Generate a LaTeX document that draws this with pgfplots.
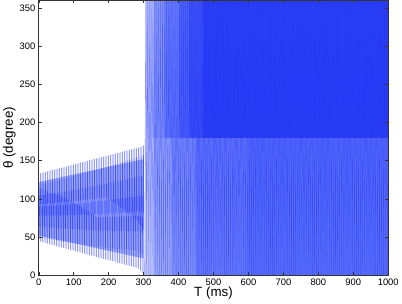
\documentclass[border=0pt]{standalone}
\usepackage{pgfplots}
\pgfplotsset{compat=1.18}
\usepackage{fontspec}
\setmainfont{Liberation Sans}
\definecolor{lineb}{RGB}{30,50,250}
\definecolor{band}{RGB}{170,181,252}
\definecolor{loA}{RGB}{192,200,252}
\definecolor{loB}{RGB}{155,168,250}
\definecolor{loC}{RGB}{125,142,250}
\definecolor{loD}{RGB}{100,118,250}
\definecolor{loE}{RGB}{88,108,250}
\definecolor{upA}{RGB}{172,182,252}
\definecolor{upB}{RGB}{132,148,250}
\definecolor{upC}{RGB}{100,120,250}
\definecolor{upD}{RGB}{76,96,248}
\definecolor{upF}{RGB}{58,78,247}
\definecolor{upE}{RGB}{42,62,245}
\begin{document}
\begin{tikzpicture}
\begin{axis}[
  scale only axis, width=352bp, height=277bp,
  xmin=0, xmax=1000, ymin=0, ymax=360,
  xtick={0,100,...,1000}, ytick={0,50,...,350},
  tick align=inside, major tick length=3bp,
  axis line style={black!80, line width=0.5pt},
  every tick/.style={black!80, line width=0.4pt},
  /pgf/number format/assume math mode=true,
  /pgf/number format/1000 sep={},
  ticklabel style={font=\fontsize{9.5}{11}\selectfont},
  label style={font=\fontsize{13.5}{15}\selectfont},
  xlabel={T (ms)}, ylabel={θ (degree)},
  xlabel style={yshift=5bp}, ylabel style={yshift=-3bp},
  axis on top,
]
% light band of the bounded oscillation
\addplot[draw=none, fill=band] coordinates {(0,122)(300,152)(300,22)(0,52)} --cycle;
% background density of the wrapped region
\addplot[draw=none, fill=loA] coordinates {(305,0)(305,180)(330,180)(330,0)} --cycle;
\addplot[draw=none, fill=loB] coordinates {(330,0)(330,180)(380,180)(380,0)} --cycle;
\addplot[draw=none, fill=loC] coordinates {(380,0)(380,180)(450,180)(450,0)} --cycle;
\addplot[draw=none, fill=loD] coordinates {(450,0)(450,180)(600,180)(600,0)} --cycle;
\addplot[draw=none, fill=loE] coordinates {(600,0)(600,180)(1000,180)(1000,0)} --cycle;
\addplot[draw=none, fill=upA] coordinates {(308,180)(308,360)(330,360)(330,180)} --cycle;
\addplot[draw=none, fill=upB] coordinates {(330,180)(330,360)(360,360)(360,180)} --cycle;
\addplot[draw=none, fill=upC] coordinates {(360,180)(360,360)(400,360)(400,180)} --cycle;
\addplot[draw=none, fill=upD] coordinates {(400,180)(400,360)(430,360)(430,180)} --cycle;
\addplot[draw=none, fill=upF] coordinates {(430,180)(430,360)(470,360)(470,180)} --cycle;
\addplot[draw=none, fill=upE] coordinates {(470,180)(470,360)(1000,360)(1000,180)} --cycle;
% bounded oscillation 0-300 ms
\addplot[lineb, line width=0.45pt, opacity=0.75] coordinates {
(0,133)(0.6,44.7)(5,133.6)(5.6,44.1)(10,134.2)(10.6,43.4)(15,134.8)(15.6,42.8)(20,135.4)(20.6,42.2)
(25,136)(25.6,41.6)(30,136.6)(30.6,40.9)(35,137.2)(35.6,40.3)(40,137.8)(40.6,39.7)(45,138.4)(45.6,39.1)
(50,139)(50.6,38.4)(55,139.6)(55.6,37.8)(60,140.2)(60.6,37.2)(65,140.8)(65.6,36.6)(70,141.4)(70.6,35.9)
(75,142)(75.6,35.3)(80,142.6)(80.6,34.7)(85,143.2)(85.6,34.1)(90,143.8)(90.6,33.4)(95,144.4)(95.6,32.8)
(100,145)(100.6,32.2)(105,145.6)(105.6,31.6)(110,146.2)(110.6,30.9)(115,146.8)(115.6,30.3)(120,147.4)(120.6,29.7)
(125,148)(125.6,29.1)(130,148.6)(130.6,28.4)(135,149.2)(135.6,27.8)(140,149.8)(140.6,27.2)(145,150.4)(145.6,26.6)
(150,151)(150.6,25.9)(155,151.6)(155.6,25.3)(160,152.2)(160.6,24.7)(165,152.8)(165.6,24.1)(170,153.4)(170.6,23.4)
(175,154)(175.6,22.8)(180,154.6)(180.6,22.2)(185,155.2)(185.6,21.6)(190,155.8)(190.6,20.9)(195,156.4)(195.6,20.3)
(200,157)(200.6,19.7)(205,157.6)(205.6,19.1)(210,158.2)(210.6,18.4)(215,158.8)(215.6,17.8)(220,159.4)(220.6,17.2)
(225,160)(225.6,16.6)(230,160.6)(230.6,15.9)(235,161.2)(235.6,15.3)(240,161.8)(240.6,14.7)(245,162.4)(245.6,14.1)
(250,163)(250.6,13.4)(255,163.6)(255.6,12.8)(260,164.2)(260.6,12.2)(265,164.8)(265.6,11.6)(270,165.4)(270.6,10.9)
(275,166)(275.6,10.3)(280,166.6)(280.6,9.7)(285,167.2)(285.6,8.6)(290,167.8)(290.6,6)(295,168.4)(295.6,3)
(300,170)(300.6,0)
};
% wrapped rotation 300-1000 ms
\addplot[lineb, line width=0.4pt, opacity=0.5] coordinates {
(303,0)(306,360)(309,0)(312,360)(315,0)(318,360)(321,0)(324,360)(327,0)(330,360)
(333,0)(336,360)(339,0)(342,360)(345,0)(348,360)(351,0)(354,360)(357,0)(360,360)
(363,0)(366,360)(369,0)(372,360)(375,0)(378,360)(381,0)(384,360)(387,0)(390,360)
(393,0)(396,360)(399,0)(402,360)(405,0)(408,360)(411,0)(414,360)(417,0)(420,360)
(423,0)(426,360)(429,0)(432,360)(435,0)(438,360)(441,0)(444,360)(447,0)(450,360)
(453,0)(456,360)(459,0)(462,360)(465,0)(468,360)(471,0)(474,360)(477,0)(480,360)
(483,0)(486,360)(489,0)(492,360)(495,0)(498,360)(501,0)(504,360)(507,0)(510,360)
(513,0)(516,360)(519,0)(522,360)(525,0)(528,360)(531,0)(534,360)(537,0)(540,360)
(543,0)(546,360)(549,0)(552,360)(555,0)(558,360)(561,0)(564,360)(567,0)(570,360)
(573,0)(576,360)(579,0)(582,360)(585,0)(588,360)(591,0)(594,360)(597,0)(600,360)
(603,0)(606,360)(609,0)(612,360)(615,0)(618,360)(621,0)(624,360)(627,0)(630,360)
(633,0)(636,360)(639,0)(642,360)(645,0)(648,360)(651,0)(654,360)(657,0)(660,360)
(663,0)(666,360)(669,0)(672,360)(675,0)(678,360)(681,0)(684,360)(687,0)(690,360)
(693,0)(696,360)(699,0)(702,360)(705,0)(708,360)(711,0)(714,360)(717,0)(720,360)
(723,0)(726,360)(729,0)(732,360)(735,0)(738,360)(741,0)(744,360)(747,0)(750,360)
(753,0)(756,360)(759,0)(762,360)(765,0)(768,360)(771,0)(774,360)(777,0)(780,360)
(783,0)(786,360)(789,0)(792,360)(795,0)(798,360)(801,0)(804,360)(807,0)(810,360)
(813,0)(816,360)(819,0)(822,360)(825,0)(828,360)(831,0)(834,360)(837,0)(840,360)
(843,0)(846,360)(849,0)(852,360)(855,0)(858,360)(861,0)(864,360)(867,0)(870,360)
(873,0)(876,360)(879,0)(882,360)(885,0)(888,360)(891,0)(894,360)(897,0)(900,360)
(903,0)(906,360)(909,0)(912,360)(915,0)(918,360)(921,0)(924,360)(927,0)(930,360)
(933,0)(936,360)(939,0)(942,360)(945,0)(948,360)(951,0)(954,360)(957,0)(960,360)
(963,0)(966,360)(969,0)(972,360)(975,0)(978,360)(981,0)(984,360)(987,0)(990,360)
(993,0)(996,360)(999,0)
};
\end{axis}
\end{tikzpicture}
\end{document}
